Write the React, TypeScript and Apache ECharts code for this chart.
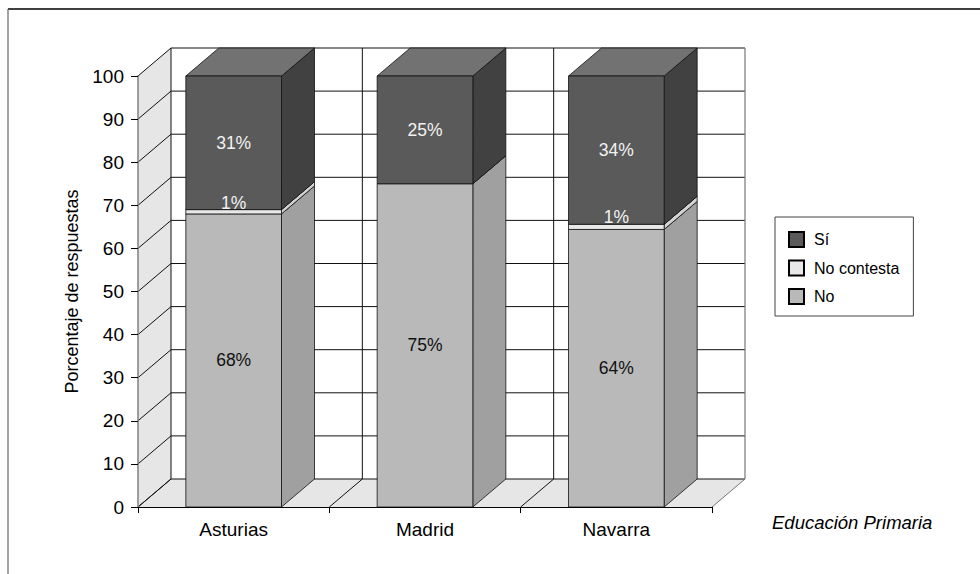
import { useEffect, useRef } from "react";
import * as echarts from "echarts";

// Regions along the category axis
const categories = ["Asturias", "Madrid", "Navarra"];

// Stacked shares (%), bottom to top
const noValues = [68, 75, 64.4];
const noContestaValues = [1, 0, 1.2];
const siValues = [31, 25, 34.4];

// Value-axis ticks used for the back-wall grid
const yTicks = [0, 10, 20, 30, 40, 50, 60, 70, 80, 90, 100];

const legendOrder = ["Sí", "No contesta", "No"];

const FONT = "'Liberation Sans', Arial, Helvetica, sans-serif";
// Depth offset of the pseudo-3D box, in pixels
const DX = 33;
const DY = -28;
const BAR_RATIO = 0.5;

type Shade = { front: string; side: string; top: string; label: string; above?: boolean };

function barSeries(name: string, values: number[], bases: number[], shade: Shade) {
  return {
    type: "custom",
    name,
    z: 3,
    itemStyle: { color: shade.front, borderColor: "#000", borderWidth: 1 },
    encode: { x: 0, y: [1, 2] },
    data: categories.map((_, j) => [j, bases[j], bases[j] + values[j], values[j]]),
    renderItem: (_params: any, api: any) => {
      const j = api.value(0);
      const lo = api.value(1);
      const hi = api.value(2);
      const v = api.value(3);
      if (!(v > 0)) return { type: "group", children: [] };
      const pLo = api.coord([j, lo]);
      const pHi = api.coord([j, hi]);
      const bw = api.size([1, 0])[0] * BAR_RATIO;
      const xl = pLo[0] - bw / 2;
      const xr = pLo[0] + bw / 2;
      const yb = pLo[1];
      const yt = pHi[1];
      const edge = { stroke: "#111", lineWidth: 0.8 };
      return {
        type: "group",
        children: [
          {
            type: "polygon",
            shape: { points: [[xr, yb], [xr, yt], [xr + DX, yt + DY], [xr + DX, yb + DY]] },
            style: { fill: shade.side, ...edge },
          },
          {
            type: "polygon",
            shape: { points: [[xl, yt], [xr, yt], [xr + DX, yt + DY], [xl + DX, yt + DY]] },
            style: { fill: shade.top, ...edge },
          },
          {
            type: "rect",
            shape: { x: xl, y: yt, width: bw, height: yb - yt },
            style: { fill: shade.front, ...edge },
          },
          {
            type: "text",
            z2: 50,
            x: pLo[0],
            y: shade.above ? yt + 2 : (yb + yt) / 2,
            style: {
              text: Math.round(v) + "%",
              fill: shade.label,
              fontSize: 17.5,
              fontFamily: FONT,
              align: "center",
              verticalAlign: shade.above ? "bottom" : "middle",
            },
          },
        ],
      };
    },
  };
}

function wallSeries() {
  return {
    type: "custom",
    name: "walls",
    z: 1,
    silent: true,
    encode: { x: 0, y: 1 },
    data: [[0, 0]],
    renderItem: (_params: any, api: any) => {
      const band = api.size([1, 0])[0];
      const yBot = api.coord([0, yTicks[0]])[1];
      const yTop = api.coord([0, yTicks[yTicks.length - 1]])[1];
      const bounds = [0, ...categories.map((_, k) => k + 1)].map(
        (k) => api.coord([0, 0])[0] - band / 2 + k * band
      );
      const x0 = bounds[0];
      const x1 = bounds[bounds.length - 1];
      const line = { stroke: "#111", lineWidth: 1 };
      const children: any[] = [
        {
          type: "polygon",
          shape: { points: [[x0, yTop], [x0, yBot], [x0 + DX, yBot + DY], [x0 + DX, yTop + DY]] },
          style: { fill: "#e6e6e6" },
        },
        {
          type: "polygon",
          shape: { points: [[x0, yBot], [x1, yBot], [x1 + DX, yBot + DY], [x0 + DX, yBot + DY]] },
          style: { fill: "#e6e6e6" },
        },
      ];
      yTicks.forEach((t) => {
        const y = api.coord([0, t])[1];
        children.push({
          type: "line",
          shape: { x1: x0 + DX, y1: y + DY, x2: x1 + DX, y2: y + DY },
          style: line,
        });
        children.push({
          type: "line",
          shape: { x1: x0, y1: y, x2: x0 + DX, y2: y + DY },
          style: line,
        });
      });
      bounds.forEach((xb, k) => {
        children.push({
          type: "line",
          shape: { x1: xb + DX, y1: yTop + DY, x2: xb + DX, y2: yBot + DY },
          style: k === bounds.length - 1 ? { stroke: "#777", lineWidth: 1.2 } : line,
        });
        children.push({
          type: "line",
          shape: { x1: xb, y1: yBot, x2: xb + DX, y2: yBot + DY },
          style: k === bounds.length - 1 ? { stroke: "#777", lineWidth: 1 } : line,
        });
      });
      return { type: "group", children };
    },
  };
}

export default function App() {
  const ref = useRef<HTMLDivElement>(null);

  useEffect(() => {
    if (!ref.current) return;
    const chart = echarts.init(ref.current, null, { renderer: "svg" });

    const ncBases = noValues.slice();
    const siBases = noValues.map((v, i) => v + noContestaValues[i]);
    const zeros = categories.map(() => 0);

    chart.setOption({
      animation: false,
      backgroundColor: "#fff",
      textStyle: { fontFamily: FONT },
      grid: { left: 138, right: 268, top: 76, bottom: 67 },
      title: {
        text: "Educación Primaria",
        left: 772,
        top: 513,
        padding: 0,
        textStyle: {
          fontStyle: "italic",
          fontWeight: "normal",
          fontSize: 18.5,
          fontFamily: FONT,
          color: "#000",
        },
      },
      legend: {
        data: legendOrder,
        orient: "vertical",
        left: 775,
        top: 217,
        padding: [14, 14, 11, 13],
        itemGap: 11.5,
        itemWidth: 15,
        itemHeight: 15,
        icon: "rect",
        borderColor: "#444",
        borderWidth: 1,
        textStyle: {
          fontFamily: FONT,
          fontSize: 16,
          color: "#000",
          padding: [0, 0, 0, 5],
        },
      },
      xAxis: {
        type: "category",
        data: categories,
        z: 10,
        axisLine: { lineStyle: { color: "#000", width: 1.2 } },
        axisTick: { show: true, length: 6, lineStyle: { color: "#000" } },
        axisLabel: { fontSize: 19, margin: 13, color: "#000", fontFamily: FONT },
        splitLine: { show: false },
      },
      yAxis: {
        type: "value",
        min: 0,
        max: 100,
        interval: 10,
        z: 10,
        name: "Porcentaje de respuestas",
        nameLocation: "middle",
        nameGap: 56,
        nameRotate: 90,
        nameTextStyle: { fontSize: 18, fontFamily: FONT, color: "#000" },
        axisLine: { show: true, lineStyle: { color: "#808080", width: 1.5 } },
        axisTick: { show: true, length: 7, lineStyle: { color: "#000" } },
        axisLabel: { fontSize: 19, margin: 14, color: "#000", fontFamily: FONT },
        splitLine: { show: false },
      },
      graphic: [
        {
          type: "line",
          shape: { x1: 8, y1: 9, x2: 980, y2: 9 },
          style: { stroke: "#000", lineWidth: 1.5 },
        },
        {
          type: "line",
          shape: { x1: 8, y1: 9, x2: 8, y2: 574 },
          style: { stroke: "#666", lineWidth: 1.2 },
        },
      ],
      series: [
        wallSeries(),
        barSeries("No", noValues, zeros, {
          front: "#b9b9b9",
          side: "#a0a0a0",
          top: "#cfcfcf",
          label: "#111",
        }),
        barSeries("No contesta", noContestaValues, ncBases, {
          front: "#e8e8e8",
          side: "#d2d2d2",
          top: "#f2f2f2",
          label: "#f2f2f2",
          above: true,
        }),
        barSeries("Sí", siValues, siBases, {
          front: "#5a5a5a",
          side: "#414141",
          top: "#727272",
          label: "#f2f2f2",
        }),
      ],
    });

    return () => chart.dispose();
  }, []);

  return (
    <div
      ref={ref}
      style={{ position: "fixed", left: 0, top: 0, width: 980, height: 574 }}
    />
  );
}
